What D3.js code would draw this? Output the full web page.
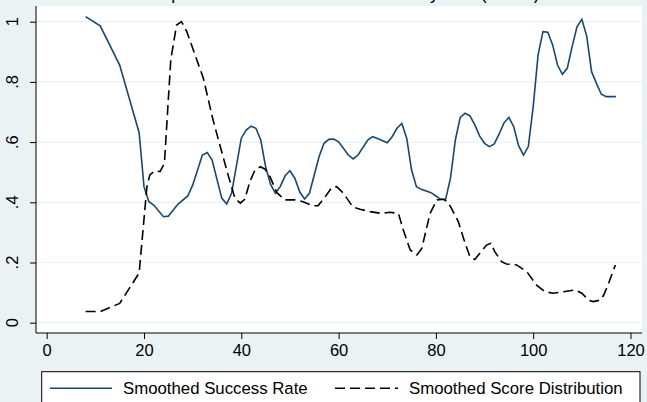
<!DOCTYPE html>
<head>
    <meta charset="utf-8">
    <script src="https://d3js.org/d3.v7.min.js"></script>
    <style>
        body { margin:0; background:#EAF2F3; }
        text { font-family: "Liberation Sans", Arial, sans-serif; fill:#000; }
    </style>
</head>
<body>
<script>
    // smoothed success rate
    var successX = [8, 11, 15, 19, 20, 21, 22, 24, 25, 27, 29, 30, 32, 33, 34, 36, 37, 38, 40, 41, 42, 43, 44, 45,
        46, 47, 48, 49, 50, 51, 52, 53, 54, 56, 57, 58, 59, 60, 62, 63, 64, 66, 67, 68, 70, 71, 72, 73, 74, 75,
        76, 77, 79, 80, 81, 82, 83, 84, 85, 86, 87, 88, 89, 90, 91, 92, 93, 94, 95, 96, 97, 98, 99, 100,
        101, 102, 103, 104, 105, 106, 107, 108, 109, 110, 111, 112, 113, 114, 115, 117];
    var successY = [1.017, .986, .856, .631, .452, .402, .391, .352, .354, .394, .421, .457, .557, .565, .540, .413, .394, .43, .613, .640, .653, .646, .607, .518,
        .460, .43, .452, .488, .505, .48, .435, .411, .43, .552, .596, .609, .610, .601, .557, .544, .557, .607, .618, .612, .598, .618, .646, .662, .613, .507,
        .452, .443, .432, .421, .41, .41, .48, .607, .682, .696, .687, .657, .620, .596, .585, .594, .627, .664, .682, .651, .588, .557, .585, .718,
        .889, .967, .965, .923, .856, .825, .845, .917, .983, 1.008, .952, .834, .795, .759, .751, .751];

    // smoothed score distribution
    var scoreX = [8, 11, 15, 19, 20.6, 21.2, 22.3, 23.3, 24.2, 25.5, 26.7, 27.7, 28.8, 32.2, 34.2, 37, 38.7, 39.8, 40.7,
        41.8, 42.8, 43.9, 44.9, 45.9, 47.3, 49, 51, 52.7, 54.7, 55.8, 57, 58.6, 59.6, 61, 62.9, 64.4, 66.5, 68.9,
        70.6, 72.3, 73.3, 74.7, 76.1, 77.1, 78.8, 80.2, 81.5, 82.4, 83.2, 84.6, 86, 87, 88, 89, 90.4, 91.3, 92.1,
        93.5, 94.5, 96.6, 98.7, 100.7, 102.4, 104.1, 106.2, 108.6, 110, 111.4, 112.3, 113.8, 114.5, 115.5, 116.9];
    var scoreY = [.037, .037, .064, .165, .452, .491, .505, .502, .53, .873, .989, 1.0, .967, .812, .673, .507, .413, .397, .41,
        .47, .507, .518, .51, .485, .432, .408, .408, .402, .388, .389, .413, .449, .452, .43, .385, .377, .369, .363,
        .367, .363, .308, .242, .225, .247, .363, .408, .41, .402, .38, .336, .264, .219, .21, .23, .258, .264, .236,
        .203, .195, .192, .169, .125, .103, .098, .103, .109, .098, .075, .07, .075, .092, .131, .192];

    var xTicks = [0, 20, 40, 60, 80, 100, 120];
    var yTicks = [0, .2, .4, .6, .8, 1];
    var legendLabels = ["Smoothed Success Rate", "Smoothed Score Distribution"];
    var titleText = "Comparison of Success and Scores by Test (Males)";

    var W = 647, H = 402;
    var plot = {left: 36, right: 642, top: 6, bottom: 333};

    var svg = d3.select("body").append("svg")
        .attr("width", W)
        .attr("height", H);

    svg.append("rect").attr("width", W).attr("height", H).attr("fill", "#EAF2F3");

    // title sits mostly above the picture, only its descenders show
    svg.append("text")
        .attr("x", 134)
        .attr("y", -1)
        .style("font-size", "17.7px")
        .text(titleText);

    svg.append("rect")
        .attr("x", plot.left)
        .attr("y", plot.top)
        .attr("width", plot.right - plot.left)
        .attr("height", plot.bottom - plot.top)
        .attr("fill", "white");

    var x = d3.scaleLinear().domain([0, 120]).range([46.7, 630.5]);
    var y = d3.scaleLinear().domain([0, 1]).range([322.7, 21.7]);

    // grid
    svg.append("g").selectAll("line")
        .data(yTicks).enter().append("line")
        .attr("x1", plot.left).attr("x2", plot.right)
        .attr("y1", function(d) { return y(d); })
        .attr("y2", function(d) { return y(d); })
        .attr("stroke", "#EAF2F3")
        .attr("stroke-width", 1.2);

    // x axis
    var xAxis = svg.append("g")
        .attr("transform", "translate(0," + plot.bottom + ")")
        .call(d3.axisBottom(x).tickValues(xTicks).tickSize(6).tickPadding(5).tickFormat(d3.format("d")));
    xAxis.select(".domain").remove();
    xAxis.selectAll("text").style("font-size", "16.5px").attr("font-family", null);
    svg.append("line")
        .attr("x1", plot.left).attr("x2", plot.right)
        .attr("y1", plot.bottom).attr("y2", plot.bottom)
        .attr("stroke", "black");

    // y axis
    var yFmt = function(d) { return d === 0 ? "0" : d === 1 ? "1" : String(d).replace("0.", "."); };
    var yAxis = svg.append("g")
        .attr("transform", "translate(" + plot.left + ",0)")
        .call(d3.axisLeft(y).tickValues(yTicks).tickSize(6).tickFormat(""));
    yAxis.select(".domain").remove();
    svg.append("line")
        .attr("x1", plot.left).attr("x2", plot.left)
        .attr("y1", plot.top).attr("y2", plot.bottom)
        .attr("stroke", "black");
    svg.append("g").selectAll("text")
        .data(yTicks).enter().append("text")
        .attr("transform", function(d) { return "translate(18.3," + y(d) + ") rotate(-90)"; })
        .attr("text-anchor", "middle")
        .style("font-size", "16.5px")
        .text(yFmt);

    var line = d3.line()
        .x(function(d) { return x(d[0]); })
        .y(function(d) { return y(d[1]); });

    svg.append("path")
        .attr("d", line(d3.zip(successX, successY)))
        .attr("fill", "none")
        .attr("stroke", "#1a476f")
        .attr("stroke-width", 1.6);

    svg.append("path")
        .attr("d", line(d3.zip(scoreX, scoreY)))
        .attr("fill", "none")
        .attr("stroke", "black")
        .attr("stroke-width", 1.6)
        .attr("stroke-dasharray", "10,5");

    // legend
    var leg = svg.append("g");
    leg.append("rect")
        .attr("x", 41.7).attr("y", 371.7)
        .attr("width", 598.3).attr("height", 50)
        .attr("fill", "white").attr("stroke", "black");
    leg.append("line")
        .attr("x1", 50).attr("x2", 112).attr("y1", 388.3).attr("y2", 388.3)
        .attr("stroke", "#1a476f").attr("stroke-width", 1.6);
    leg.append("text").attr("x", 123).attr("y", 393.5)
        .style("font-size", "16.8px").text(legendLabels[0]);
    leg.append("line")
        .attr("x1", 335).attr("x2", 398).attr("y1", 388.3).attr("y2", 388.3)
        .attr("stroke", "black").attr("stroke-width", 1.6)
        .attr("stroke-dasharray", "10,5");
    leg.append("text").attr("x", 409).attr("y", 393.5)
        .style("font-size", "16.8px").text(legendLabels[1]);
</script>
</body>
